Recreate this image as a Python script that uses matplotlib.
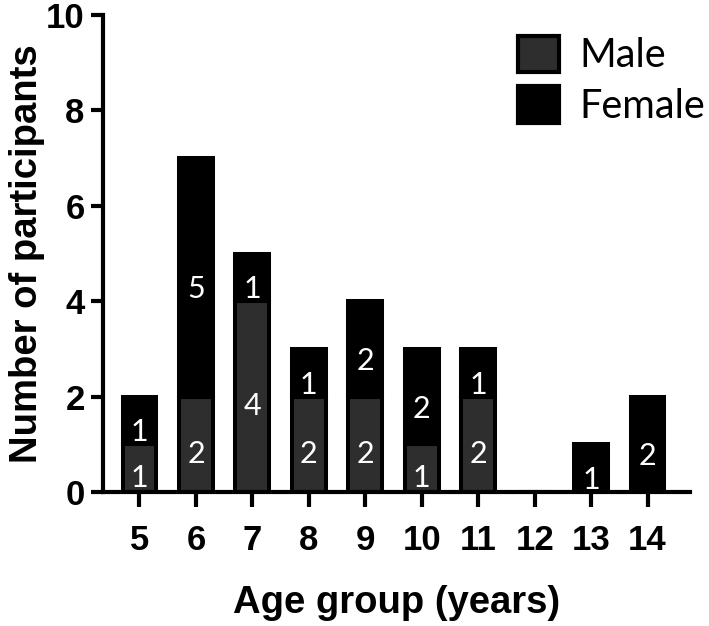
import matplotlib
matplotlib.use('Agg')
from matplotlib import pyplot as plt
from matplotlib.patches import Patch
import numpy as np

# Data
ages = [5, 6, 7, 8, 9, 10, 11, 12, 13, 14]
male = [1, 2, 4, 2, 2, 1, 2, 0, 0, 0]
female = [1, 5, 1, 1, 2, 2, 1, 0, 1, 2]

male_color = '#2e2e2e'
female_color = '#000000'
label_font = ['Lato', 'DejaVu Sans']

fig = plt.figure(figsize=(7.09, 6.26), dpi=100)
ax = fig.add_axes([0.145, 0.214, 0.828, 0.762])

x = np.array(ages)
m = np.array(male)
f = np.array(female)
width = 0.6
ax.bar(x, m, width, color=male_color, edgecolor='black', linewidth=2.9)
ax.bar(x, f, width, bottom=m, color=female_color, edgecolor='black', linewidth=2.9)

# value labels inside segments (white)
for xi, mi, fi in zip(x, m, f):
    if mi > 0:
        ax.text(xi, mi / 2 - 0.2, str(mi), color='white', ha='center', va='center',
                fontsize=22, family=label_font)
    if fi > 0:
        ax.text(xi, mi + fi / 2 - 0.25, str(fi), color='white', ha='center', va='center',
                fontsize=22, family=label_font)

ax.set_xlim(4.35, 14.75)
ax.set_ylim(0, 10)
ax.set_xticks(ages)
ax.set_xticklabels([str(a) for a in ages])
ax.set_yticks([0, 2, 4, 6, 8, 10])

for s in ['top', 'right']:
    ax.spines[s].set_visible(False)
for s in ['left', 'bottom']:
    ax.spines[s].set_linewidth(3)

ax.tick_params(axis='y', length=9, width=3, pad=4, labelsize=25)
ax.tick_params(axis='x', length=11, width=3, pad=12, labelsize=25)
for lab in ax.get_xticklabels() + ax.get_yticklabels():
    lab.set_fontweight('bold')
    lab.set_family('Liberation Sans')

ax.set_xlabel('Age group (years)', fontsize=27.5, fontweight='bold',
              family='Liberation Sans', labelpad=20)
ax.set_ylabel('Number of participants', fontsize=27.5, fontweight='bold',
              family='Liberation Sans', labelpad=1)

handles = [Patch(facecolor=male_color, edgecolor='black', linewidth=3, label='Male'),
           Patch(facecolor=female_color, edgecolor='black', linewidth=3, label='Female')]
fig.legend(handles=handles, loc='upper left', bbox_to_anchor=(0.68, 1.0),
           frameon=False, prop={'family': label_font, 'size': 28.5},
           handlelength=1.05, handleheight=1.05, handletextpad=0.5, labelspacing=0.3)

fig.savefig('out.png', dpi=100)
